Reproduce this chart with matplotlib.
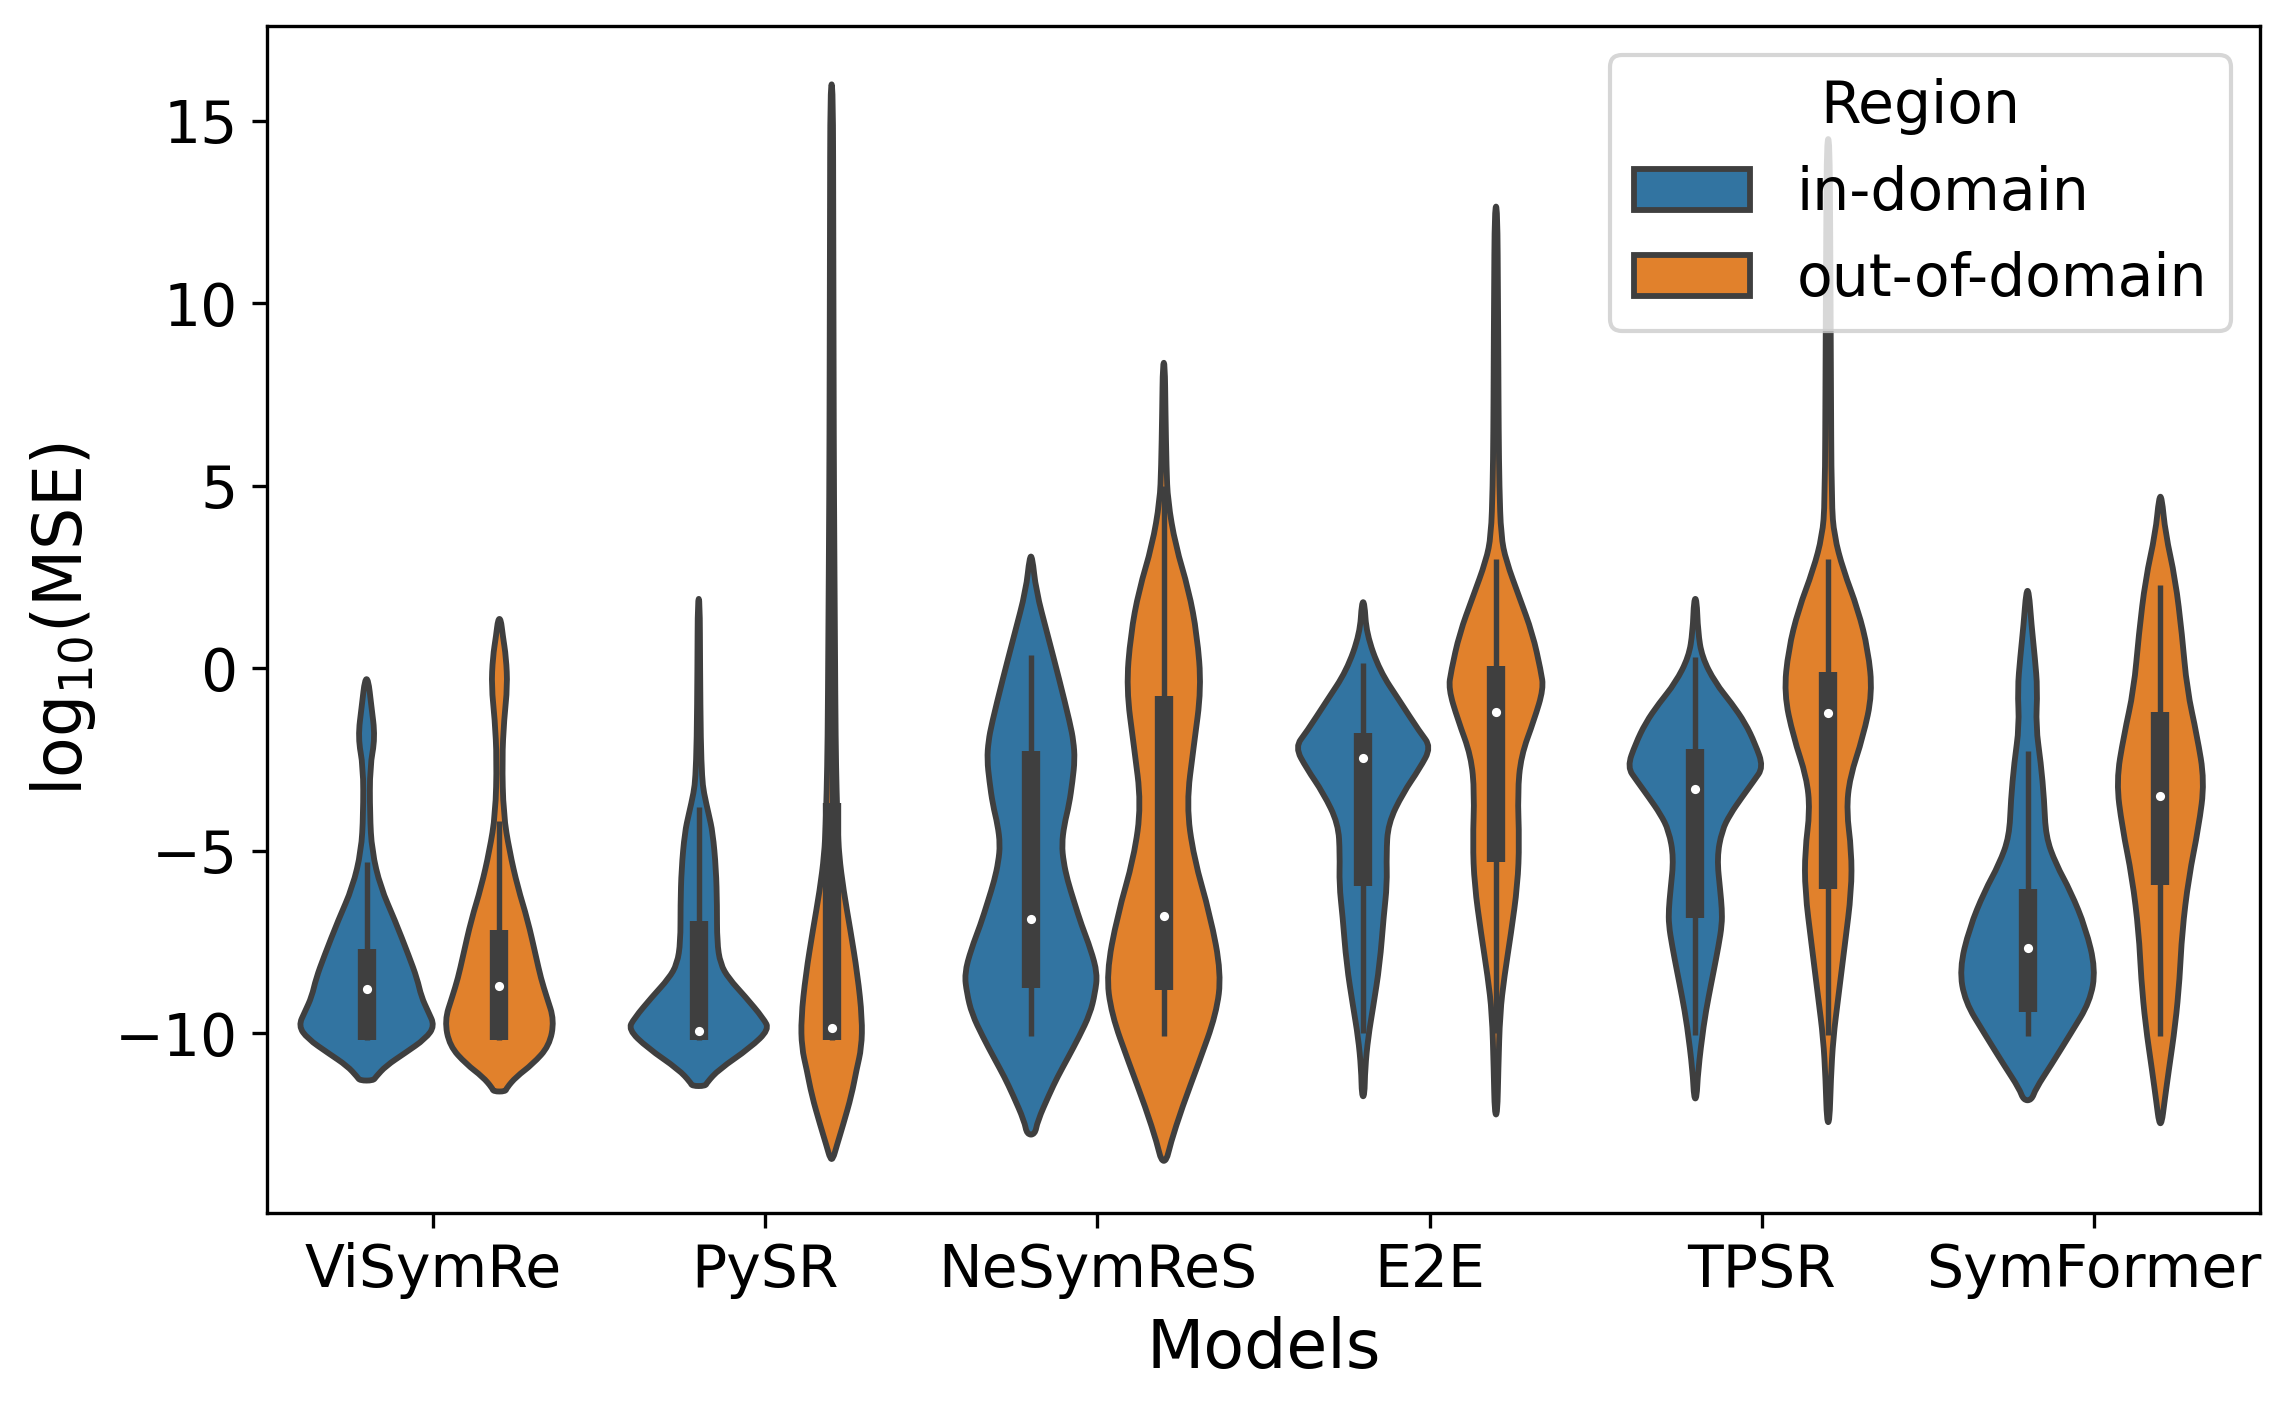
import numpy as np
import matplotlib
matplotlib.use("Agg")
import matplotlib.pyplot as plt
from matplotlib.patches import Patch, PathPatch
from matplotlib.path import Path

models = ["ViSymRe", "PySR", "NeSymReS", "E2E", "TPSR", "SymFormer"]
regions = ["in-domain", "out-of-domain"]
colors = {"in-domain": "#3274a1", "out-of-domain": "#e1812c"}
gray = "#3f3f3f"

# violin outlines: log10(MSE) levels and half widths
shape_y = {
    ("ViSymRe", "in-domain"): [-0.3, -1.0, -1.9, -2.7, -4.0, -5.0, -6.0, -6.9, -7.9, -8.5, -9.0, -9.4, -9.8, -10.15, -10.55, -10.9, -11.2, -11.3],
    ("ViSymRe", "out-of-domain"): [1.35, 0.9, 0.3, -0.5, -1.4, -2.5, -4.0, -5.0, -6.0, -6.9, -7.9, -8.5, -9.0, -9.65, -10.35, -10.85, -11.2, -11.5, -11.6],
    ("PySR", "in-domain"): [1.9, 0.0, -2.0, -3.0, -3.4, -4.0, -4.5, -5.5, -6.5, -7.5, -8.1, -8.5, -9.0, -9.6, -9.9, -10.4, -11.0, -11.35, -11.45],
    ("PySR", "out-of-domain"): [16.0, 12.0, 8.0, 4.8, 0.7, -2.0, -3.4, -4.3, -5.1, -6.1, -7.15, -8.4, -9.6, -10.4, -11.0, -11.7, -12.5, -13.1, -13.45],
    ("NeSymReS", "in-domain"): [3.06, 2.14, 0.92, -0.3, -1.52, -2.0, -2.5, -3.1, -3.73, -4.3, -4.83, -5.3, -5.81, -6.4, -7.03, -7.7, -8.37, -8.9, -9.47, -10.1, -10.7, -11.2, -11.68, -12.41, -12.78],
    ("NeSymReS", "out-of-domain"): [8.37, 7.0, 5.5, 4.59, 3.37, 2.14, 0.92, -0.55, -2.14, -3.73, -5.19, -6.78, -8.37, -9.47, -10.82, -12.04, -13.03, -13.5],
    ("E2E", "in-domain"): [1.81, 0.95, -0.07, -0.9, -1.74, -2.16, -2.75, -3.42, -4.26, -5.1, -5.93, -6.78, -8.12, -9.29, -10.12, -10.97, -11.73],
    ("E2E", "out-of-domain"): [12.65, 10.0, 8.32, 6.5, 4.97, 3.63, 2.95, 1.95, 0.95, -0.07, -0.56, -1.41, -2.41, -3.42, -4.76, -5.93, -7.27, -8.45, -9.46, -10.97, -12.23],
    ("TPSR", "in-domain"): [1.9, 1.0, 0.31, -0.4, -0.97, -1.5, -2.07, -2.71, -3.1, -3.54, -4.0, -4.45, -5.19, -6.1, -6.6, -7.03, -7.6, -8.31, -9.0, -9.77, -11.05, -11.79],
    ("TPSR", "out-of-domain"): [14.5, 12.0, 8.2, 4.53, 3.63, 2.7, 1.6, 0.5, -0.69, -1.88, -2.99, -3.9, -5.0, -6.1, -7.58, -9.04, -10.14, -11.25, -12.44],
    ("SymFormer", "in-domain"): [2.12, 1.18, 0.3, -0.58, -1.59, -2.59, -3.6, -4.61, -5.36, -6.12, -7.12, -8.25, -9.14, -10.01, -10.89, -11.52, -11.84],
    ("SymFormer", "out-of-domain"): [4.7, 3.7, 2.44, 0.93, -0.58, -1.84, -3.1, -4.36, -5.74, -7.25, -8.51, -9.77, -11.03, -11.9, -12.47],
}
shape_w = {
    ("ViSymRe", "in-domain"): [0.005, 0.014, 0.026, 0.010, 0.010, 0.016, 0.042, 0.085, 0.128, 0.152, 0.165, 0.185, 0.205, 0.178, 0.115, 0.058, 0.028, 0.02],
    ("ViSymRe", "out-of-domain"): [0.004, 0.01, 0.02, 0.024, 0.014, 0.008, 0.012, 0.03, 0.055, 0.085, 0.11, 0.125, 0.142, 0.165, 0.15, 0.10, 0.05, 0.022, 0.018],
    ("PySR", "in-domain"): [0.003, 0.004, 0.006, 0.01, 0.015, 0.03, 0.042, 0.052, 0.055, 0.055, 0.065, 0.09, 0.14, 0.195, 0.212, 0.155, 0.06, 0.025, 0.02],
    ("PySR", "out-of-domain"): [0.004, 0.005, 0.006, 0.007, 0.01, 0.012, 0.015, 0.018, 0.022, 0.036, 0.056, 0.078, 0.092, 0.09, 0.075, 0.06, 0.035, 0.015, 0.004],
    ("NeSymReS", "in-domain"): [0.004, 0.015, 0.05, 0.085, 0.118, 0.128, 0.132, 0.125, 0.115, 0.1, 0.093, 0.098, 0.11, 0.13, 0.152, 0.18, 0.2, 0.193, 0.178, 0.145, 0.11, 0.08, 0.055, 0.02, 0.012],
    ("NeSymReS", "out-of-domain"): [0.003, 0.005, 0.008, 0.012, 0.035, 0.075, 0.10, 0.113, 0.09, 0.068, 0.09, 0.14, 0.173, 0.158, 0.105, 0.055, 0.02, 0.008],
    ("E2E", "in-domain"): [0.004, 0.01, 0.05, 0.11, 0.17, 0.205, 0.17, 0.12, 0.075, 0.07, 0.072, 0.062, 0.05, 0.03, 0.015, 0.006, 0.004],
    ("E2E", "out-of-domain"): [0.004, 0.006, 0.007, 0.008, 0.01, 0.015, 0.03, 0.07, 0.11, 0.135, 0.143, 0.115, 0.075, 0.065, 0.07, 0.065, 0.045, 0.025, 0.012, 0.007, 0.004],
    ("TPSR", "in-domain"): [0.004, 0.008, 0.02, 0.06, 0.11, 0.15, 0.18, 0.205, 0.175, 0.14, 0.105, 0.08, 0.065, 0.075, 0.08, 0.08, 0.07, 0.055, 0.04, 0.025, 0.008, 0.004],
    ("TPSR", "out-of-domain"): [0.004, 0.006, 0.008, 0.01, 0.018, 0.045, 0.09, 0.12, 0.133, 0.105, 0.065, 0.055, 0.07, 0.07, 0.05, 0.03, 0.015, 0.008, 0.004],
    ("SymFormer", "in-domain"): [0.004, 0.012, 0.022, 0.03, 0.025, 0.04, 0.05, 0.055, 0.085, 0.13, 0.175, 0.205, 0.188, 0.13, 0.07, 0.025, 0.012],
    ("SymFormer", "out-of-domain"): [0.004, 0.015, 0.045, 0.065, 0.08, 0.11, 0.133, 0.115, 0.085, 0.065, 0.058, 0.045, 0.025, 0.012, 0.004],
}

# inner box: whisker low, q1, median, q3, whisker high
box_stats = {
    ("ViSymRe", "in-domain"): [-10.2, -10.2, -8.78, -7.69, -5.3],
    ("ViSymRe", "out-of-domain"): [-10.2, -10.2, -8.7, -7.18, -4.2],
    ("PySR", "in-domain"): [-10.2, -10.2, -9.95, -6.93, -3.8],
    ("PySR", "out-of-domain"): [-10.2, -10.2, -9.86, -3.7, 6.0],
    ("NeSymReS", "in-domain"): [-10.09, -8.77, -6.87, -2.26, 0.37],
    ("NeSymReS", "out-of-domain"): [-10.09, -8.83, -6.78, -0.75, 5.0],
    ("E2E", "in-domain"): [-10.0, -5.97, -2.45, -1.77, 0.14],
    ("E2E", "out-of-domain"): [-10.0, -5.32, -1.2, 0.05, 3.0],
    ("TPSR", "in-domain"): [-10.05, -6.84, -3.3, -2.22, 0.3],
    ("TPSR", "out-of-domain"): [-10.05, -6.05, -1.24, -0.1, 3.0],
    ("SymFormer", "in-domain"): [-10.07, -9.41, -7.68, -6.05, -2.28],
    ("SymFormer", "out-of-domain"): [-10.07, -5.93, -3.5, -1.19, 2.29],
}


def violin_path(x, y, w):
    # closed outline, drawn with quadratic curves so it looks smooth
    pts = np.concatenate([np.column_stack([x + w, y]),
                          np.column_stack([x - w, y])[::-1]])
    n = len(pts)
    mids = (pts + np.roll(pts, -1, axis=0)) / 2
    verts = [mids[-1]]
    codes = [Path.MOVETO]
    for i in range(n):
        verts += [pts[i], mids[i]]
        codes += [Path.CURVE3, Path.CURVE3]
    verts.append(mids[-1])
    codes.append(Path.CLOSEPOLY)
    return Path(verts, codes)


fig = plt.figure(figsize=(2291 / 300, 1411 / 300), dpi=300)
ax = fig.add_axes([0.1165, 0.1403, 0.87, 0.8413])

offsets = {"in-domain": -0.2, "out-of-domain": 0.2}
for i, m in enumerate(models):
    for r in regions:
        x = i + offsets[r]
        y = np.array(shape_y[(m, r)])
        w = np.array(shape_w[(m, r)])
        ax.add_patch(PathPatch(violin_path(x, y, w), facecolor=colors[r], edgecolor=gray,
                               linewidth=1.4, joinstyle="round", zorder=2))
        lo, q1, med, q3, hi = box_stats[(m, r)]
        ax.plot([x, x], [lo, hi], color=gray, lw=1.3, solid_capstyle="butt", zorder=3)
        ax.plot([x, x], [q1, q3], color=gray, lw=4.4, solid_capstyle="butt", zorder=3)
        ax.plot([x], [med], marker="o", color="white", markersize=2.2,
                markeredgewidth=0, zorder=4)

ax.set_xlim(-0.5, 5.5)
ax.set_ylim(-14.93, 17.6)
ax.set_xticks(range(len(models)))
ax.set_xticklabels(models)
ax.set_yticks([-10, -5, 0, 5, 10, 15])
ax.set_yticklabels(["\u221210", "\u22125", "0", "5", "10", "15"])
ax.tick_params(labelsize=14)
ax.set_xlabel("Models", fontsize=16)
ax.set_ylabel(r"log$_{10}$(MSE)", fontsize=16)

handles = [Patch(facecolor=colors[r], edgecolor=gray, linewidth=1.4, label=r) for r in regions]
ax.legend(handles=handles, title="Region", loc="upper right", fontsize=14, title_fontsize=14)

fig.savefig("out.png", dpi=300)
